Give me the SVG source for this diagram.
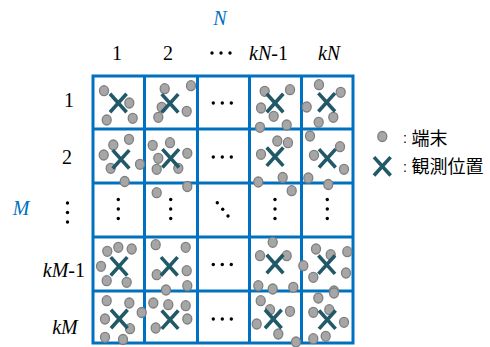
<svg xmlns="http://www.w3.org/2000/svg" xmlns:xlink="http://www.w3.org/1999/xlink" width="490" height="347" viewBox="0 0 490 347">
<style>
.grid{stroke:#0070C0;stroke-width:3;fill:none}
.lbl{font-family:"Liberation Serif",serif;font-size:20px;fill:#000;text-anchor:middle}
.blue{fill:#0070C0;font-style:italic}
.it{font-style:italic}
.leg{font-family:"Liberation Sans","Noto Sans CJK JP",sans-serif;font-size:18px;fill:#000}
.colon{font-family:"Liberation Sans",sans-serif;font-size:14px;fill:#000}
.dot{fill:#000}
</style>
<defs>
<ellipse id="t" cx="0" cy="0" rx="4.5" ry="5" fill="#A6A6A6" stroke="#7F7F7F" stroke-width="1.3"/>
<path id="x" d="M-8.3,-9.2 L8.3,9.2 M8.3,-9.2 L-8.3,9.2" stroke="#215968" stroke-width="3.6" fill="none"/>
<g id="h3"><circle cx="-9" cy="0" r="1.7"/><circle cx="0" cy="0" r="1.7"/><circle cx="9" cy="0" r="1.7"/></g>
<g id="v3"><circle cx="0" cy="-9.5" r="1.7"/><circle cx="0" cy="0" r="1.7"/><circle cx="0" cy="9.5" r="1.7"/></g>
</defs>
<g id="labels">
<text class="lbl blue" x="220" y="25">N</text>
<text class="lbl" x="117" y="60">1</text>
<text class="lbl" x="168" y="60">2</text>
<use xlink:href="#h3" x="221" y="53" class="dot"/>
<text class="lbl" x="268.5" y="60"><tspan class="it">kN</tspan>-1</text>
<text class="lbl it" x="329" y="60">kN</text>
<text class="lbl blue" x="21" y="215">M</text>
<text class="lbl" x="69" y="107">1</text>
<text class="lbl" x="67" y="164">2</text>
<use xlink:href="#v3" x="67.5" y="212.5" class="dot"/>
<text class="lbl" x="85" y="277" style="text-anchor:end"><tspan class="it">kM</tspan>-1</text>
<text class="lbl it" x="65" y="334">kM</text>
</g>
<g id="grid">
<rect class="grid" x="93" y="76" width="260" height="267"/>
<path class="grid" d="M144.5,76V343 M197.5,76V343 M249.5,76V343 M301.5,76V343 M93,129H353 M93,183H353 M93,237H353 M93,291H353"/>
</g>
<g id="cell-1-1">
<use xlink:href="#t" x="104" y="90.7"/><use xlink:href="#t" x="129.3" y="103"/><use xlink:href="#t" x="106.7" y="120"/><use xlink:href="#t" x="132.7" y="118.3"/>
<use xlink:href="#x" x="118.3" y="103"/>
</g>
<g id="cell-1-2">
<use xlink:href="#t" x="164.7" y="88.7"/><use xlink:href="#t" x="191" y="85.7"/><use xlink:href="#t" x="161.7" y="107.3"/><use xlink:href="#t" x="158.3" y="117.3"/><use xlink:href="#t" x="186.7" y="111.3"/>
<use xlink:href="#x" x="170" y="103.3"/>
</g>
<g id="cell-1-3"><use xlink:href="#h3" x="222.3" y="103" class="dot"/></g>
<g id="cell-1-4">
<use xlink:href="#t" x="264.7" y="91.3"/><use xlink:href="#t" x="290" y="89.7"/><use xlink:href="#t" x="261" y="108"/><use xlink:href="#t" x="273.7" y="116.3"/><use xlink:href="#t" x="260" y="127.3"/><use xlink:href="#t" x="286.7" y="125"/>
<use xlink:href="#x" x="275" y="103"/>
</g>
<g id="cell-1-5">
<use xlink:href="#t" x="319" y="84.7"/><use xlink:href="#t" x="340.7" y="92.3"/><use xlink:href="#t" x="306.7" y="107"/><use xlink:href="#t" x="333.3" y="117.3"/><use xlink:href="#t" x="318.7" y="122.3"/>
<use xlink:href="#x" x="326.7" y="102.3"/>
</g>
<g id="cell-2-1">
<use xlink:href="#t" x="129" y="139.3"/><use xlink:href="#t" x="113.3" y="145"/><use xlink:href="#t" x="103.7" y="155"/><use xlink:href="#t" x="110.7" y="168.3"/><use xlink:href="#t" x="140" y="164.3"/><use xlink:href="#t" x="124.7" y="181.5"/>
<use xlink:href="#x" x="121" y="159.3"/>
</g>
<g id="cell-2-2">
<use xlink:href="#t" x="152.7" y="145.3"/><use xlink:href="#t" x="170" y="142.7"/><use xlink:href="#t" x="187.3" y="153.3"/><use xlink:href="#t" x="158.3" y="158.3"/><use xlink:href="#t" x="156.7" y="169.3"/><use xlink:href="#t" x="178.3" y="168.3"/>
<use xlink:href="#x" x="170.7" y="158.3"/>
</g>
<g id="cell-2-3"><use xlink:href="#h3" x="222.3" y="157" class="dot"/></g>
<g id="cell-2-4">
<use xlink:href="#t" x="277.3" y="141"/><use xlink:href="#t" x="288" y="142.7"/><use xlink:href="#t" x="261" y="154.3"/><use xlink:href="#t" x="258.3" y="182"/><use xlink:href="#t" x="282.7" y="177.5"/>
<use xlink:href="#x" x="275" y="156.7"/>
</g>
<g id="cell-2-5">
<use xlink:href="#t" x="310" y="136"/><use xlink:href="#t" x="340" y="146.7"/><use xlink:href="#t" x="314" y="155.3"/><use xlink:href="#t" x="344" y="169.3"/><use xlink:href="#t" x="308.3" y="178"/><use xlink:href="#t" x="328.3" y="184.5"/>
<use xlink:href="#x" x="327.3" y="158.3"/>
</g>
<g id="cell-3-1"><use xlink:href="#v3" x="118.3" y="209" class="dot"/></g>
<g id="cell-3-2">
<use xlink:href="#t" x="156.7" y="192.7"/><use xlink:href="#t" x="187.3" y="186.5"/>
<use xlink:href="#v3" x="170.7" y="209" class="dot"/>
</g>
<g id="cell-3-3"><circle class="dot" cx="217.3" cy="202.7" r="1.7"/><circle class="dot" cx="222.7" cy="209.3" r="1.7"/><circle class="dot" cx="228" cy="216" r="1.7"/></g>
<g id="cell-3-4">
<use xlink:href="#t" x="291.7" y="190.7"/>
<use xlink:href="#v3" x="275" y="209" class="dot"/>
</g>
<g id="cell-3-5"><use xlink:href="#v3" x="327.3" y="209" class="dot"/></g>
<g id="cell-4-1">
<use xlink:href="#t" x="107.3" y="251.3"/><use xlink:href="#t" x="118.3" y="247.3"/><use xlink:href="#t" x="131.7" y="249"/><use xlink:href="#t" x="101" y="266.3"/><use xlink:href="#t" x="106.7" y="280.7"/><use xlink:href="#t" x="126.7" y="282.3"/>
<use xlink:href="#x" x="119" y="266.3"/>
</g>
<g id="cell-4-2">
<use xlink:href="#t" x="155.7" y="244.7"/><use xlink:href="#t" x="185.7" y="247.3"/><use xlink:href="#t" x="186.7" y="270.7"/><use xlink:href="#t" x="156.7" y="274.7"/><use xlink:href="#t" x="187.3" y="285.7"/><use xlink:href="#t" x="166" y="290"/>
<use xlink:href="#x" x="169.3" y="266.3"/>
</g>
<g id="cell-4-3"><use xlink:href="#h3" x="222.3" y="264.5" class="dot"/></g>
<g id="cell-4-4">
<use xlink:href="#t" x="272.7" y="242.3"/><use xlink:href="#t" x="260" y="255.7"/><use xlink:href="#t" x="286.7" y="255.7"/><use xlink:href="#t" x="303.3" y="265.7"/><use xlink:href="#t" x="258.3" y="285.7"/><use xlink:href="#t" x="272.7" y="289"/><use xlink:href="#t" x="293.3" y="287.3"/>
<use xlink:href="#x" x="275" y="264"/>
</g>
<g id="cell-4-5">
<use xlink:href="#t" x="316" y="249"/><use xlink:href="#t" x="330.7" y="254.7"/><use xlink:href="#t" x="347.3" y="251.7"/><use xlink:href="#t" x="313.3" y="277.3"/><use xlink:href="#t" x="346" y="273"/><use xlink:href="#t" x="334" y="291"/>
<use xlink:href="#x" x="326.7" y="264.7"/>
</g>
<g id="cell-5-1">
<use xlink:href="#t" x="106.7" y="300.7"/><use xlink:href="#t" x="129.3" y="303"/><use xlink:href="#t" x="105" y="319"/><use xlink:href="#t" x="141.7" y="312.5"/><use xlink:href="#t" x="130" y="328.7"/><use xlink:href="#t" x="105" y="337.3"/><use xlink:href="#t" x="123" y="339.5"/>
<use xlink:href="#x" x="119.3" y="319"/>
</g>
<g id="cell-5-2">
<use xlink:href="#t" x="153.3" y="303"/><use xlink:href="#t" x="168.3" y="304.7"/><use xlink:href="#t" x="185.7" y="305.7"/><use xlink:href="#t" x="187.3" y="319"/><use xlink:href="#t" x="155.7" y="328"/>
<use xlink:href="#x" x="170" y="319.7"/>
</g>
<g id="cell-5-3"><use xlink:href="#h3" x="222.3" y="319" class="dot"/></g>
<g id="cell-5-4">
<use xlink:href="#t" x="260.7" y="300.7"/><use xlink:href="#t" x="270" y="309.7"/><use xlink:href="#t" x="290" y="311.3"/><use xlink:href="#t" x="256.7" y="324"/><use xlink:href="#t" x="278.3" y="334"/><use xlink:href="#t" x="296" y="342"/>
<use xlink:href="#x" x="273.3" y="319"/>
</g>
<g id="cell-5-5">
<use xlink:href="#t" x="334" y="293"/><use xlink:href="#t" x="318.3" y="298"/><use xlink:href="#t" x="329.3" y="309.7"/><use xlink:href="#t" x="313.3" y="312.3"/><use xlink:href="#t" x="344" y="322.3"/><use xlink:href="#t" x="325.7" y="336.3"/><use xlink:href="#t" x="313.3" y="338.7"/>
<use xlink:href="#x" x="327.3" y="319.7"/>
</g>
<g id="connectors"/>
<g id="legend">
<use xlink:href="#t" x="382.3" y="136.5"/>
<text class="colon" x="403" y="143">:</text>
<text class="leg" x="411.5" y="145">端末</text>
<use xlink:href="#x" x="382.3" y="166.3"/>
<text class="colon" x="403" y="172">:</text>
<text class="leg" x="411.5" y="173">観測位置</text>
</g>
</svg>
